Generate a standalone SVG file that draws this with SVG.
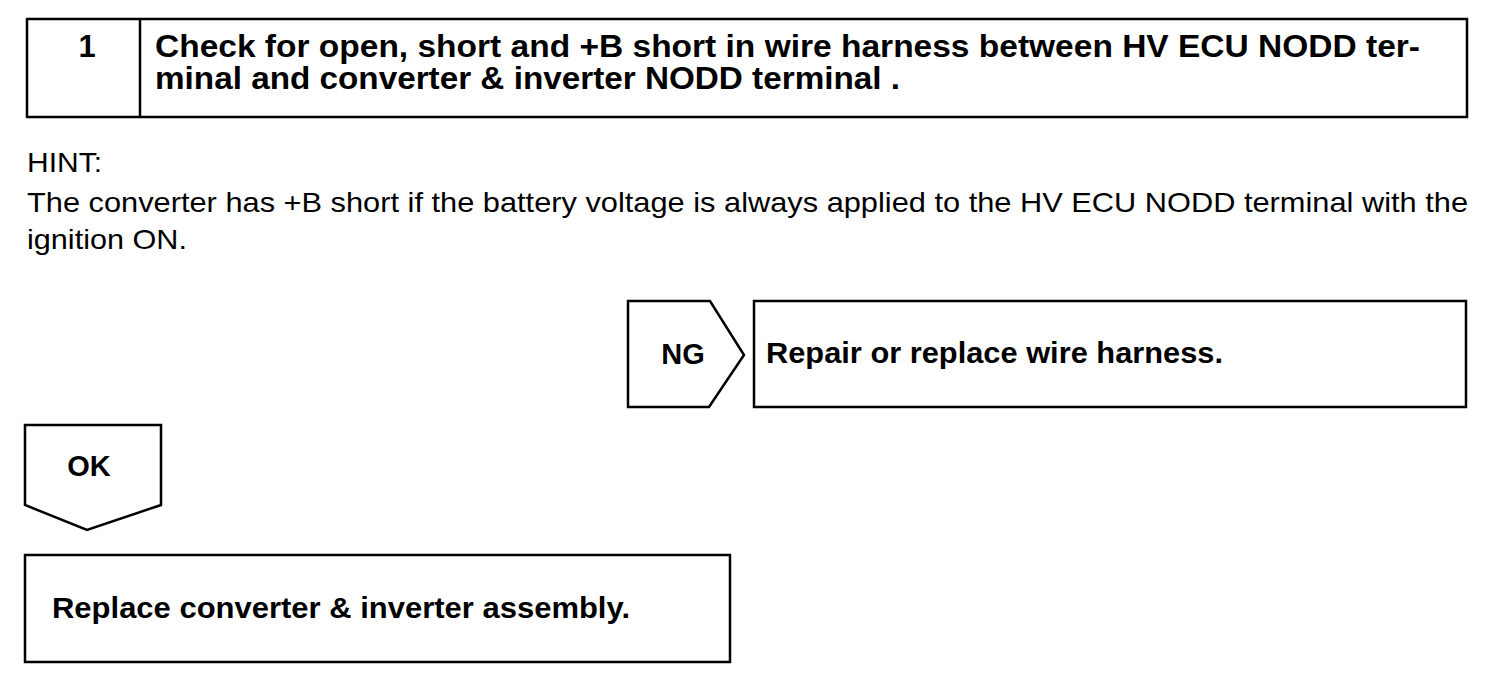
<svg xmlns="http://www.w3.org/2000/svg" width="1504" height="682" viewBox="0 0 1504 682">
<style>
.box{fill:#fff;stroke:#000;stroke-width:2.5;stroke-linejoin:miter}
.b{font-family:"Liberation Sans",Arial,sans-serif;font-weight:bold;font-size:31px;fill:#000}
.r{font-family:"Liberation Sans",Arial,sans-serif;font-size:28px;fill:#000}
.m{font-size:29px}
</style>
<rect width="1504" height="682" fill="#fff"/>
<g id="step1">
<rect class="box" x="27" y="19" width="1440" height="98"/>
<line x1="140" y1="19" x2="140" y2="117" stroke="#000" stroke-width="2.5"/>
<text class="b" x="87" y="57" text-anchor="middle">1</text>
<text class="b" x="155" y="57" textLength="1265" lengthAdjust="spacingAndGlyphs">Check for open, short and +B short in wire harness between HV ECU NODD ter-</text>
<text class="b" x="155" y="89" textLength="745" lengthAdjust="spacingAndGlyphs">minal and converter &amp; inverter NODD terminal .</text>
</g>
<g id="hint">
<text class="r" x="27" y="172" textLength="75" lengthAdjust="spacingAndGlyphs">HINT:</text>
<text class="r" x="27" y="212" textLength="1441" lengthAdjust="spacingAndGlyphs">The converter has +B short if the battery voltage is always applied to the HV ECU NODD terminal with the</text>
<text class="r" x="27" y="249" textLength="160" lengthAdjust="spacingAndGlyphs">ignition ON.</text>
</g>
<g id="ng">
<polygon class="box" points="628,301 710,301 744,355 709,407 628,407"/>
<text class="b m" x="683" y="364" text-anchor="middle">NG</text>
</g>
<g id="repair">
<rect class="box" x="754" y="301" width="712" height="106"/>
<text class="b m" x="766" y="363" textLength="457" lengthAdjust="spacingAndGlyphs">Repair or replace wire harness.</text>
</g>
<g id="ok">
<polygon class="box" points="25,425 161,425 161,505 87,530 25,505"/>
<text class="b m" x="89" y="476" text-anchor="middle">OK</text>
</g>
<g id="replace">
<rect class="box" x="25" y="555" width="705" height="107"/>
<text class="b m" x="52" y="618" textLength="578" lengthAdjust="spacingAndGlyphs">Replace converter &amp; inverter assembly.</text>
</g>
<g id="connectors"></g>
</svg>
